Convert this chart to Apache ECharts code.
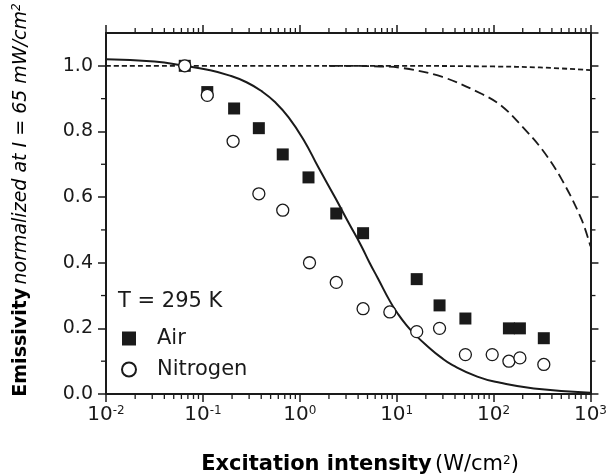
<!DOCTYPE html>
<html><head><meta charset="utf-8">
<script src="https://cdn.jsdelivr.net/npm/echarts@6/dist/echarts.min.js"></script>
<style>html,body{margin:0;padding:0;background:#fff}#c{width:610px;height:475px}</style>
</head><body><div id="c"></div>
<script>
// Measured data
const airX = [0.065, 0.111, 0.21, 0.378, 0.667, 1.23, 2.38, 4.5, 16.1, 27.7, 51.2, 144, 187, 330];
const airY = [1.0, 0.92, 0.87, 0.81, 0.73, 0.66, 0.55, 0.49, 0.35, 0.27, 0.23, 0.20, 0.20, 0.17];
const n2X = [0.065, 0.111, 0.205, 0.378, 0.667, 1.26, 2.38, 4.5, 8.5, 16.1, 27.7, 51.2, 96.8, 144, 187, 330];
const n2Y = [1.0, 0.91, 0.77, 0.61, 0.56, 0.40, 0.34, 0.26, 0.25, 0.19, 0.20, 0.12, 0.12, 0.10, 0.11, 0.09];
// Model curves
const solidX = [0.01, 0.0316, 0.0646, 0.112, 0.186, 0.282, 0.407, 0.562, 0.767, 1.094, 1.56, 2.33, 3.16, 4.30, 5.25, 6.41, 8.51, 10, 12.6, 15.85, 20.9, 28.2, 37.7, 67.9, 117.5, 260.6, 1000];
const solidY = [1.02, 1.013, 1.0, 0.988, 0.971, 0.95, 0.922, 0.888, 0.843, 0.775, 0.69, 0.597, 0.524, 0.452, 0.40, 0.352, 0.283, 0.25, 0.21, 0.178, 0.145, 0.113, 0.088, 0.053, 0.034, 0.017, 0.004];
const shortDashX = [0.01, 1, 10, 100, 300, 1000];
const shortDashY = [1.0, 1.0, 1.0, 0.998, 0.995, 0.987];
const longDashX = [2, 5.3, 11.6, 29.7, 76, 122, 196, 315, 505, 809, 1000];
const longDashY = [1.0, 0.999, 0.993, 0.966, 0.914, 0.877, 0.816, 0.746, 0.654, 0.532, 0.45];
// Axis ticks
const xMin = 0.01, xMax = 1000;
const yMin = 0, yMax = 1.1, yStep = 0.2;
const xMinorTicks = [];
[-2, -1, 0, 1, 2].forEach(e => { for (let m = 2; m <= 9; m++) xMinorTicks.push(m * Math.pow(10, e)); });
const yMinorTicks = [0.1, 0.3, 0.5, 0.7, 0.9];
const legendTitle = 'T = 295 K';

const zip = (a, b) => a.map((v, i) => [v, b[i]]);
const INK = '#1a1a1a';
const FONT = '"DejaVu Sans", Verdana, sans-serif';

const chart = echarts.init(document.getElementById('c'), null, {renderer: 'canvas'});
const axisCommon = {
  axisLine: {show: true, onZero: false, lineStyle: {color: INK, width: 2}},
  axisTick: {show: true, inside: false, length: 8, lineStyle: {color: INK, width: 1.5}},
  splitLine: {show: false}
};
function minorRender(kind) {
  return function (params, api) {
    const cs = params.coordSys;
    const v = api.value(0);
    const st = {stroke: INK, lineWidth: 1.3};
    if (kind === 'x') {
      const p = api.coord([v, 0.5]);
      const yb = cs.y + cs.height, yt = cs.y;
      return {type: 'group', children: [
        {type: 'line', shape: {x1: p[0], y1: yb, x2: p[0], y2: yb + 5}, style: st},
        {type: 'line', shape: {x1: p[0], y1: yt, x2: p[0], y2: yt - 5}, style: st}
      ]};
    } else {
      const p = api.coord([1, v]);
      const xl = cs.x, xr = cs.x + cs.width;
      return {type: 'group', children: [
        {type: 'line', shape: {x1: xl, y1: p[1], x2: xl - 5, y2: p[1]}, style: st},
        {type: 'line', shape: {x1: xr, y1: p[1], x2: xr + 5, y2: p[1]}, style: st}
      ]};
    }
  };
}
chart.setOption({
  backgroundColor: '#fff',
  animation: false,
  textStyle: {fontFamily: FONT},
  grid: {left: 106, right: 16, top: 33, bottom: 81},
  xAxis: [
    Object.assign({}, axisCommon, {
      type: 'log', logBase: 10, min: xMin, max: xMax, position: 'bottom',
      axisLabel: {
        margin: 11, color: INK,
        formatter: v => '{b|10}{s|' + Math.round(Math.log10(v)) + '}',
        rich: {b: {fontSize: 20, fontFamily: FONT, color: INK}, s: {fontSize: 12, fontFamily: FONT, color: INK, verticalAlign: 'top', padding: [0, 0, 8, 0]}}
      }
    }),
    Object.assign({}, axisCommon, {
      type: 'log', logBase: 10, min: xMin, max: xMax, position: 'top', axisLabel: {show: false}
    })
  ],
  yAxis: [
    Object.assign({}, axisCommon, {
      type: 'value', min: yMin, max: yMax, interval: yStep, position: 'left',
      axisLabel: {margin: 13, fontSize: 19, color: INK, fontFamily: FONT, showMaxLabel: false, formatter: v => v.toFixed(1)}
    }),
    Object.assign({}, axisCommon, {
      type: 'value', min: yMin, max: yMax, interval: yStep, position: 'right', axisLabel: {show: false}
    })
  ],
  legend: {
    orient: 'vertical', left: 121, top: 328, padding: 0, itemGap: 10,
    itemWidth: 14, itemHeight: 14, selectedMode: false,
    textStyle: {fontSize: 21, color: INK, fontFamily: FONT, lineHeight: 20, padding: [0, 0, 0, 16]},
    data: [{name: 'Air', icon: 'rect'}, {name: 'Nitrogen', icon: 'circle'}]
  },
  graphic: [
    {type: 'text', left: 118, top: 291, style: {text: legendTitle, font: '21px ' + FONT, fill: INK}},
    {type: 'text', x: 21, y: 200, rotation: Math.PI / 2, style: {
      text: '{b|Emissivity} {i|normalized at I = 65 mW/cm}{s|2}',
      align: 'center', verticalAlign: 'middle',
      rich: {
        b: {fontSize: 19, fontWeight: 'bold', fontFamily: FONT, color: INK},
        i: {fontSize: 19, fontStyle: 'italic', fontFamily: FONT, color: INK},
        s: {fontSize: 12, fontStyle: 'italic', fontFamily: FONT, color: INK, verticalAlign: 'top', padding: [0, 0, 8, 0]}
      }
    }},
    {type: 'text', x: 360, y: 465, style: {
      text: '{b|Excitation intensity} {n|(W/cm}{s|2}{n|)}',
      align: 'center', verticalAlign: 'middle',
      rich: {
        b: {fontSize: 21, fontWeight: 'bold', fontFamily: FONT, color: INK},
        n: {fontSize: 21, fontFamily: FONT, color: INK},
        s: {fontSize: 12, fontFamily: FONT, color: INK, verticalAlign: 'top', padding: [0, 0, 8, 0]}
      }
    }}
  ],
  series: [
    {type: 'custom', name: 'xminor', silent: true, clip: false, renderItem: minorRender('x'),
     data: xMinorTicks.map(v => [v, 0.5]), encode: {x: 0, y: 1}, z: 1},
    {type: 'custom', name: 'yminor', silent: true, clip: false, renderItem: minorRender('y'),
     data: yMinorTicks.map(v => [v]), encode: {y: 0}, z: 1},
    {type: 'line', name: 'model', data: zip(solidX, solidY), symbol: 'none', smooth: 0.5,
     lineStyle: {color: INK, width: 2}, z: 2},
    {type: 'line', name: 'dash1', data: zip(shortDashX, shortDashY), symbol: 'none', smooth: 0.35,
     lineStyle: {color: INK, width: 1.8, type: [5, 3]}, z: 2},
    {type: 'line', name: 'dash2', data: zip(longDashX, longDashY), symbol: 'none', smooth: 0.35,
     lineStyle: {color: INK, width: 1.8, type: [10, 5]}, z: 2},
    {type: 'scatter', name: 'Air', data: zip(airX, airY), symbol: 'rect', symbolSize: 12,
     itemStyle: {color: INK, opacity: 1}, z: 3},
    {type: 'scatter', name: 'Nitrogen', data: zip(n2X, n2Y), symbol: 'circle', symbolSize: 12,
     itemStyle: {color: '#fff', borderColor: INK, borderWidth: 1.3, opacity: 1}, z: 4}
  ]
});
</script></body></html>
